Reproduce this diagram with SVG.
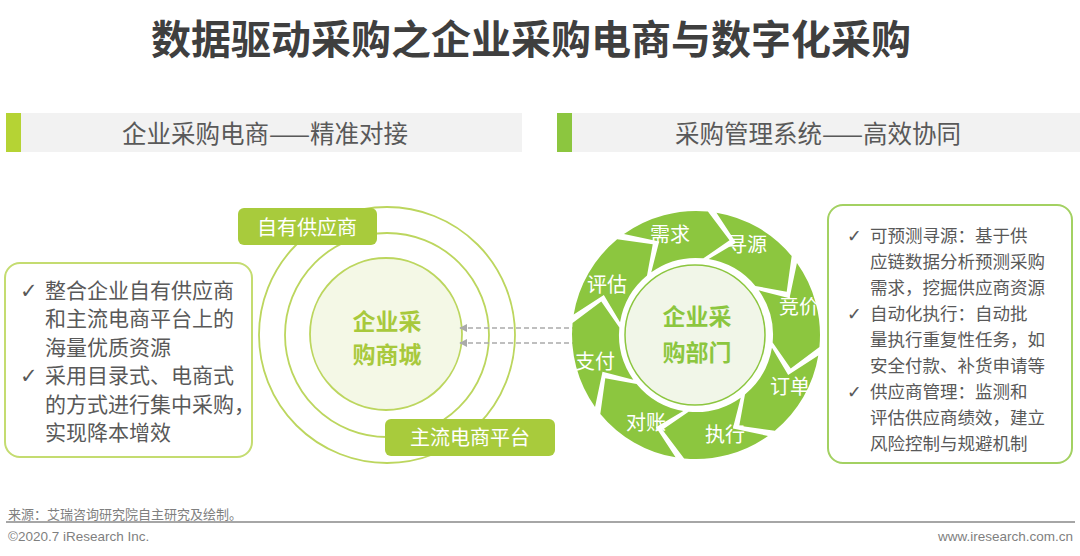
<svg xmlns="http://www.w3.org/2000/svg" xmlns:xlink="http://www.w3.org/1999/xlink" width="1080" height="556" viewBox="0 0 1080 556">
<style>
text{font-family:"Noto Sans CJK SC","Liberation Sans",sans-serif}
.title{font-size:40px;font-weight:bold;fill:#3f3f3f}
.hdr{font-size:24.5px;fill:#595959}
.body{font-size:21px;fill:#595959}
.body2{font-size:17.5px;fill:#595959}
.chk{font-family:"DejaVu Sans",sans-serif}
.lbl{font-size:20px;fill:#ffffff}
.seg{fill:#8cc63f}
.ctr{font-size:23px;font-weight:bold}
.foot{font-size:13px;fill:#7f7f7f}
.foot2{font-family:"Liberation Sans",sans-serif;font-size:13.5px;fill:#7f7f7f}
.dash{stroke:#aaaaaa;stroke-width:1.5;stroke-dasharray:5 3;fill:none}
</style>
<defs>
<path id="segp" d="M116.15,-43.42 A124,124 0 0 1 116.15,43.42 L82.82,56.92 L72.13,26.97 A77,77 0 0 0 72.13,-26.97 L99.86,-11.38 Z"/>
<marker id="ah" viewBox="0 0 10 10" refX="9" refY="5" markerWidth="8" markerHeight="8" markerUnits="userSpaceOnUse" orient="auto-start-reverse">
<path d="M0,0 L10,5 L0,10 Z" fill="#aaaaaa"/>
</marker>
</defs>
<rect width="1080" height="556" fill="#ffffff"/>

<g id="title"><text class="title" x="531" y="54" text-anchor="middle">数据驱动采购之企业采购电商与数字化采购</text></g>

<g id="header-left">
<rect x="20" y="113" width="502" height="39" fill="#f2f2f2"/>
<rect x="6" y="113" width="15" height="39" fill="#b5d334"/>
<text class="hdr" x="265" y="142.5" text-anchor="middle">企业采购电商——精准对接</text>
</g>
<g id="header-right">
<rect x="571" y="113" width="509" height="39" fill="#f2f2f2"/>
<rect x="557" y="113" width="15" height="39" fill="#8cc63f"/>
<text class="hdr" x="818" y="142.5" text-anchor="middle">采购管理系统——高效协同</text>
</g>

<g id="left-box">
<rect x="5" y="263" width="247" height="194" rx="15" fill="#ffffff" stroke="#c4dc70" stroke-width="2"/>
<text class="body"><tspan class="chk" x="20" y="297.5">✓</tspan><tspan x="45" y="297.5">整合企业自有供应商</tspan><tspan x="45" y="326">和主流电商平台上的</tspan><tspan x="45" y="354.5">海量优质资源</tspan><tspan class="chk" x="20" y="383">✓</tspan><tspan x="45" y="383">采用目录式、电商式</tspan><tspan x="45" y="411.5">的方式进行集中采购，</tspan><tspan x="45" y="440">实现降本增效</tspan></text>
</g>

<g id="mall-circles">
<circle cx="387" cy="335" r="128" fill="#ffffff" stroke="#bcd65e" stroke-width="1.8"/>
<circle cx="387" cy="335" r="102" fill="#ffffff" stroke="#bcd65e" stroke-width="1.8"/>
<circle cx="386" cy="334" r="76" fill="#f4f8e6" stroke="#bcd65e" stroke-width="1.8"/>
<text class="ctr" fill="#a8c93c" x="387" y="330" text-anchor="middle">企业采</text>
<text class="ctr" fill="#a8c93c" x="387" y="363" text-anchor="middle">购商城</text>
</g>
<g id="label-own">
<rect x="238" y="208" width="139" height="37" rx="6" fill="#a8cb3c"/>
<text class="lbl" x="307" y="235" text-anchor="middle">自有供应商</text>
</g>
<g id="label-platform">
<rect x="385" y="419" width="170" height="37" rx="6" fill="#a8cb3c"/>
<text class="lbl" x="470" y="445" text-anchor="middle">主流电商平台</text>
</g>

<g id="connectors">
<line class="dash" x1="460" y1="328" x2="582" y2="328" marker-start="url(#ah)" marker-end="url(#ah)"/>
<line class="dash" x1="460" y1="343" x2="582" y2="343" marker-start="url(#ah)" marker-end="url(#ah)"/>
</g>

<g id="cycle-ring">
<use xlink:href="#segp" class="seg" transform="translate(696 335) rotate(-105)"/>
<use xlink:href="#segp" class="seg" transform="translate(696 335) rotate(-60)"/>
<use xlink:href="#segp" class="seg" transform="translate(696 335) rotate(-15)"/>
<use xlink:href="#segp" class="seg" transform="translate(696 335) rotate(30)"/>
<use xlink:href="#segp" class="seg" transform="translate(696 335) rotate(75)"/>
<use xlink:href="#segp" class="seg" transform="translate(696 335) rotate(120)"/>
<use xlink:href="#segp" class="seg" transform="translate(696 335) rotate(165)"/>
<use xlink:href="#segp" class="seg" transform="translate(696 335) rotate(210)"/>
<text class="lbl" x="670" y="242" text-anchor="middle">需求</text>
<text class="lbl" x="747" y="252" text-anchor="middle">寻源</text>
<text class="lbl" x="799" y="314" text-anchor="middle">竞价</text>
<text class="lbl" x="790" y="394" text-anchor="middle">订单</text>
<text class="lbl" x="725" y="442" text-anchor="middle">执行</text>
<text class="lbl" x="646" y="430" text-anchor="middle">对账</text>
<text class="lbl" x="595" y="369" text-anchor="middle">支付</text>
<text class="lbl" x="607" y="292" text-anchor="middle">评估</text>
</g>
<g id="dept-center">
<circle cx="695" cy="335" r="70" fill="#f1f6e8" stroke="#8cc63f" stroke-width="1.5"/>
<text class="ctr" fill="#8cc63f" x="697" y="325" text-anchor="middle">企业采</text>
<text class="ctr" fill="#8cc63f" x="697" y="361" text-anchor="middle">购部门</text>
</g>

<g id="right-box">
<rect x="828" y="205" width="244" height="258" rx="15" fill="#ffffff" stroke="#a3d162" stroke-width="2"/>
<text class="body2"><tspan class="chk" x="847" y="241.5">✓</tspan><tspan x="870" y="241.5">可预测寻源：基于供</tspan><tspan x="870" y="267.5">应链数据分析预测采购</tspan><tspan x="870" y="293.5">需求，挖掘供应商资源</tspan><tspan class="chk" x="847" y="319.5">✓</tspan><tspan x="870" y="319.5">自动化执行：自动批</tspan><tspan x="870" y="345.5">量执行重复性任务，如</tspan><tspan x="870" y="371.5">安全付款、补货申请等</tspan><tspan class="chk" x="847" y="397.5">✓</tspan><tspan x="870" y="397.5">供应商管理：监测和</tspan><tspan x="870" y="423.5">评估供应商绩效，建立</tspan><tspan x="870" y="449.5">风险控制与规避机制</tspan></text>
</g>

<g id="footer">
<text class="foot" x="8" y="519">来源：艾瑞咨询研究院自主研究及绘制。</text>
<line x1="6" y1="522" x2="1075" y2="522" stroke="#a6a6a6" stroke-width="2"/>
<text class="foot2" x="8" y="541">©2020.7 iResearch Inc.</text>
<text class="foot2" x="1073" y="541" text-anchor="end">www.iresearch.com.cn</text>
</g>
</svg>
